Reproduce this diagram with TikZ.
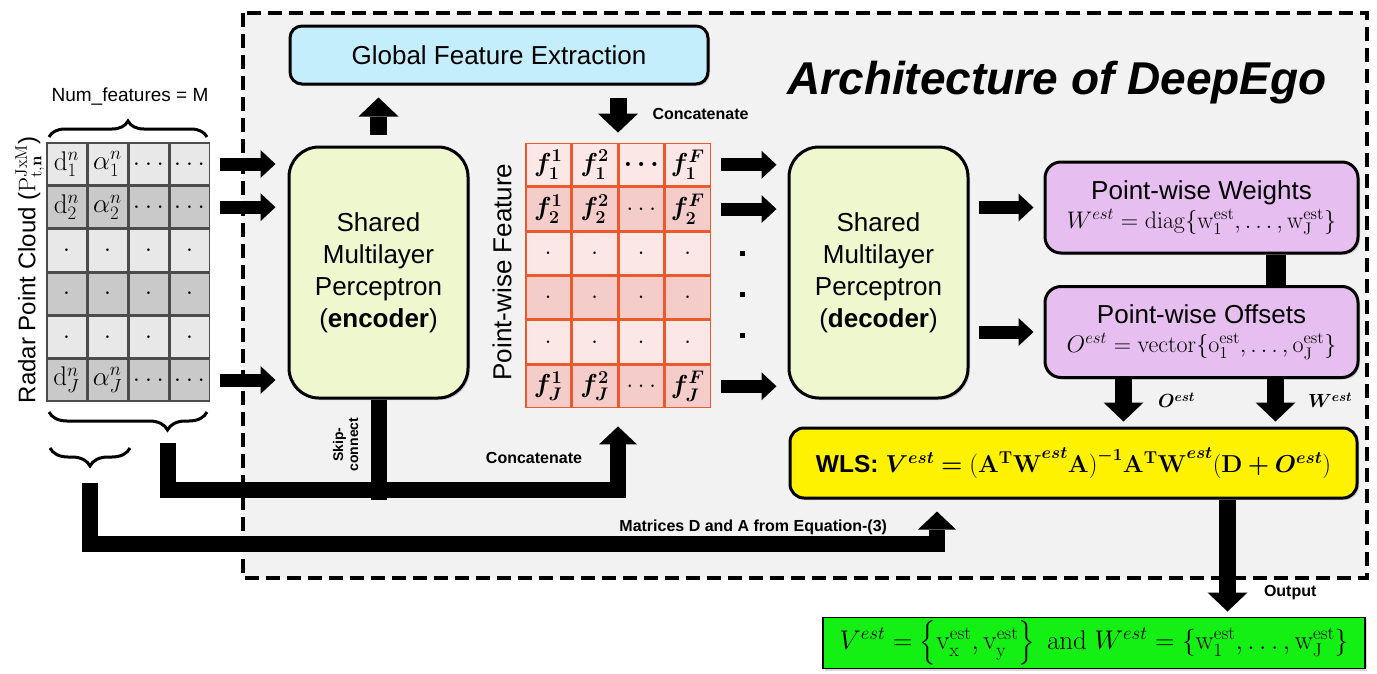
\documentclass[tikz,border=0pt]{standalone}
\usepackage{fix-cm}
\usepackage{amsmath}
\usepackage[no-math]{fontspec}
\setmainfont{Liberation Sans}
\usepackage{xcolor}
\usetikzlibrary{positioning, arrows.meta, matrix, decorations.pathreplacing, shadows}

\definecolor{panelgray}{HTML}{F2F2F2}
\definecolor{mlpfill}{HTML}{EFF7CF}
\definecolor{gfefill}{HTML}{C4EEFB}
\definecolor{headfill}{HTML}{E7BEF0}
\definecolor{outgreen}{HTML}{14F014}
\definecolor{cellA}{HTML}{E8E8E8}
\definecolor{cellB}{HTML}{C9C9C9}
\definecolor{featA}{HTML}{FBE8E6}
\definecolor{featB}{HTML}{F4CCCA}
\definecolor{featline}{HTML}{EA5A2C}

\newcommand{\bsym}[1]{\boldsymbol{#1}}

\begin{document}
\begin{tikzpicture}[
  x=1pt, y=-1pt, font=\fontsize{26}{32}\selectfont,
  >={Triangle[length=15pt, width=28pt, line width=0pt]},
  box/.style={draw, line width=3pt, rounded corners=12pt, align=center, inner sep=4pt,
    drop shadow={shadow xshift=2pt, shadow yshift=-2pt, opacity=0.3}},
  mlp/.style={box, rounded corners=30pt, fill=mlpfill, minimum width=179pt, minimum height=251pt},
  gfe/.style={box, fill=gfefill, minimum width=418pt, minimum height=58pt},
  headbox/.style={box, rounded corners=16pt, fill=headfill, minimum width=313pt, minimum height=91pt},
  solver/.style={box, rounded corners=14pt, fill=yellow, minimum width=567pt, minimum height=70pt},
  result/.style={draw, line width=1.5pt, fill=outgreen, minimum width=542pt, minimum height=50pt,
    drop shadow={shadow xshift=2pt, shadow yshift=-2pt, opacity=0.3}},
  pccell/.style={draw=black!70, line width=1.5pt, fill=cellA, minimum width=39.5pt,
    minimum height=41.7pt, inner sep=0pt, outer sep=0pt, anchor=center,
    font=\fontsize{27}{30}\selectfont},
  ftcell/.style={draw=featline, line width=1.5pt, fill=featA, minimum width=45pt,
    minimum height=42.8pt, inner sep=0pt, outer sep=0pt, anchor=center,
    font=\fontsize{26}{30}\selectfont},
  fat/.style={->, line width=13pt},
  fatv/.style={-{Triangle[length=19pt, width=40pt, line width=0pt]}, line width=17pt},
  bus/.style={line width=16pt},
  bushead/.style={bus, -{Triangle[length=18pt, width=38pt, line width=0pt]}},
  lbl/.style={font=\bfseries\fontsize{16}{19}\selectfont, inner sep=0pt},
  brc/.style={decorate, decoration={brace, amplitude=18pt}, line width=3pt},
]
\useasboundingbox (0,0) rectangle (1377,673);

% ---- dashed panel of the network ----
\draw[line width=3.5pt, dash pattern=on 14pt off 7pt, fill=panelgray] (243,13) rectangle (1367,578);
\node[font=\bfseries\itshape\fontsize{46}{54}\selectfont] (title) at (1057,83) {Architecture of DeepEgo};

% ---- input point cloud ----
\matrix (pc) [matrix of math nodes, nodes={pccell}, inner sep=0pt, outer sep=0pt,
  row 2/.style={nodes={fill=cellB}}, row 4/.style={nodes={fill=cellB}},
  row 6/.style={nodes={fill=cellB}}] at (128,272) {
  \mathrm{d}_1^n & \alpha_1^n & \ldots & \ldots \\
  \mathrm{d}_2^n & \alpha_2^n & \ldots & \ldots \\
  . & . & . & . \\
  . & . & . & . \\
  . & . & . & . \\
  \mathrm{d}_J^n & \alpha_J^n & \ldots & \ldots \\
};
\node[rotate=90, font=\fontsize{24}{28}\selectfont] (radar) at (30,270)
  {Radar Point Cloud ($\mathrm{P}_{\mathrm{t},\mathbf{n}}^{\mathrm{JxM}}$)};
\node[font=\fontsize{19}{23}\selectfont] (nfeat) at (130,97) {Num\_features = M};
\draw[brc, decoration={amplitude=16pt}] (49,137) -- (207,137);
\draw[brc, decoration={aspect=0.25}] (207,412) -- (49,412);
\draw[brc] (130,448) -- (50,448);
\coordinate (allcols) at (168,443);
\coordinate (dacols) at (90,483);

% ---- encoder, global feature, decoder ----
\node[mlp] (enc) at (378.5,272.5) {Shared\\Multilayer\\Perceptron\\(\textbf{encoder})};
\node[gfe] (gfe) at (499,55) {Global Feature Extraction};
\node[rotate=90] (pwf) at (502,272) {Point-wise Feature};
\matrix (fm) [matrix of math nodes, nodes={ftcell}, inner sep=0pt, outer sep=0pt,
  row 2/.style={nodes={fill=featB}}, row 4/.style={nodes={fill=featB}},
  row 6/.style={nodes={fill=featB}}] at (618,275.5) {
  \bsym{f_1^1} & \bsym{f_1^2} & \bsym{\ldots} & \bsym{f_1^F} \\
  \bsym{f_2^1} & \bsym{f_2^2} & \ldots & \bsym{f_2^F} \\
  . & . & . & . \\
  . & . & . & . \\
  . & . & . & . \\
  \bsym{f_J^1} & \bsym{f_J^2} & \ldots & \bsym{f_J^F} \\
};
\node[mlp] (dec) at (878.5,272.5) {Shared\\Multilayer\\Perceptron\\(\textbf{decoder})};

% ---- heads and WLS ----
\node[headbox] (wts) at (1201.5,207.5) {Point-wise Weights\\[-3pt]
  {\fontsize{24}{28}\selectfont $W^{est}=\mathrm{diag}\{\mathrm{w}_1^{\mathrm{est}},\ldots,\mathrm{w}_{\mathrm{J}}^{\mathrm{est}}\}$}};
\node[headbox] (off) at (1201.5,332) {Point-wise Offsets\\[-3pt]
  {\fontsize{24}{28}\selectfont $O^{est}=\mathrm{vector}\{\mathrm{o}_1^{\mathrm{est}},\ldots,\mathrm{o}_{\mathrm{J}}^{\mathrm{est}}\}$}};
\node[solver, font=\fontsize{24.5}{30}\selectfont] (wls) at (1073.5,463)
  {\textbf{WLS:} $\bsym{V^{est}}\bsym{=}\mathbf{(A^{T}W}^{\bsym{est}}\mathbf{A)}^{\bsym{-}\mathbf{1}}\mathbf{A^{T}W}^{\bsym{est}}\mathbf{(D}\bsym{+}\bsym{O^{est}}\mathbf{)}$};
\node[result, font=\fontsize{27}{32}\selectfont] (outb) at (1094,643) {$V^{est}=\left\{\mathrm{v}_{\mathrm{x}}^{\mathrm{est}},\mathrm{v}_{\mathrm{y}}^{\mathrm{est}}\right\}\mathrm{\ and\ }W^{est}=\left\{\mathrm{w}_1^{\mathrm{est}},\ldots,\mathrm{w}_{\mathrm{J}}^{\mathrm{est}}\right\}$};

% ---- arrows ----
\foreach \r in {1,2,6}
  \draw[fat, shorten >=12pt] ([xshift=11pt]pc-\r-4.east) -- (enc.west |- pc-\r-4.east);
\foreach \r in {1,2,6}
  \draw[fat, shorten >=11pt] ([xshift=11pt]fm-\r-4.east) -- (dec.west |- fm-\r-4.east);
\foreach \yy in {253,294,335}
  \fill (739.5,\yy-2.5) rectangle ++(5,5);
\draw[fatv, shorten <=11pt, shorten >=12pt] (enc.north) -- (enc.north |- gfe.south);
\draw[fatv, shorten <=12pt, shorten >=10pt] (gfe.south -| fm.north) -- (fm.north)
  node[midway, right=26pt, lbl]{Concatenate};
\draw[fat, shorten <=9pt, shorten >=10pt] (dec.east |- wts.west) -- (wts.west);
\draw[fat, shorten <=9pt, shorten >=10pt] (dec.east |- off.west) -- (off.west);
\draw[line width=20pt] ([xshift=74pt]wts.south) -- ([xshift=74pt]off.north);
\draw[fatv] ([xshift=-78pt]off.south) -- ([xshift=50pt, yshift=5pt]wls.north)
  node[midway, right=26pt, lbl, font=\fontsize{19}{22}\selectfont]{$\bsym{O^{est}}$};
\draw[fatv] ([xshift=74pt]off.south) -- ([xshift=202pt, yshift=5pt]wls.north)
  node[midway, right=24pt, lbl, font=\fontsize{19}{22}\selectfont]{$\bsym{W^{est}}$};
\draw[fatv] ([xshift=154pt]wls.south) -- ([xshift=133.5pt, yshift=5pt]outb.north)
  node[pos=0.83, right=28pt, lbl]{Output};

% ---- skip connection and side inputs ----
\draw[bus] (enc.south) -- ++(0,100)
  node[pos=0.45, xshift=-33pt, rotate=90, lbl, font=\bfseries\fontsize{14}{15}\selectfont, align=center]{Skip-\\connect};
\draw[bushead] (allcols) -- ++(0,47) -| ([yshift=-18pt]fm.south)
  node[pos=0.75, left=28pt, lbl]{Concatenate};
\draw[bushead] (dacols) -- ++(0,61) -| ([xshift=-136.5pt, yshift=-12pt]wls.south)
  node[pos=0.75, left=42pt, lbl]{Matrices D and A from Equation-(3)};
\end{tikzpicture}
\end{document}
